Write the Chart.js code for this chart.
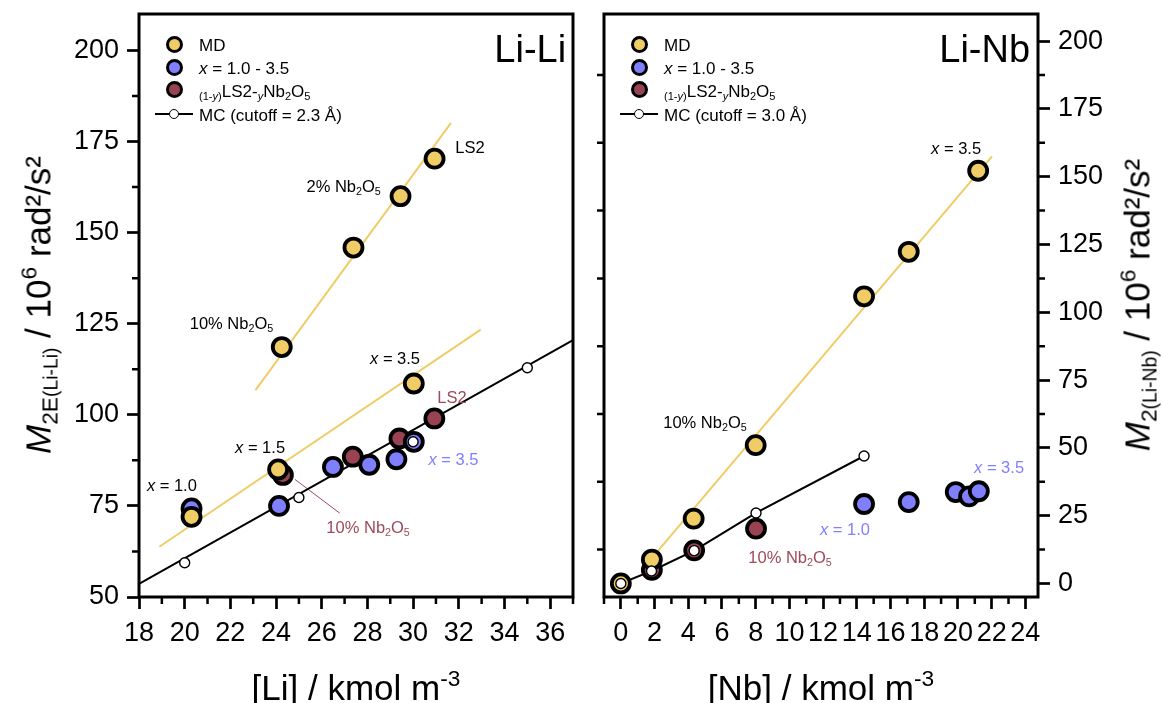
<!DOCTYPE html>
<html>
<head>
<meta charset="utf-8">
<script src="https://cdn.jsdelivr.net/npm/chart.js@4.4.1/dist/chart.umd.min.js"></script>
<style>
  body { margin: 0; background: #fff; }
  #wrap { position: relative; width: 1162px; height: 703px; overflow: hidden;
          font-family: 'Liberation Sans', Arial, sans-serif; color: #000; }
  canvas { position: absolute; top: 0; }
  .note { position: absolute; white-space: nowrap; font-size: 16.5px; line-height: 1;
          transform: translate(-50%, -50%); }
  .leg { font-size: 17px; }
  .title { position: absolute; white-space: nowrap; font-size: 35px; line-height: 1;
           transform: translate(-50%, -50%); }
  .title.rot { transform: translate(-50%, -50%) rotate(-90deg); }
  sub, sup { font-size: 0.65em; line-height: 0; }
  sub { vertical-align: -0.3em; }
  sup { vertical-align: 0.6em; }
  .dot { position: absolute; border-radius: 50%; box-sizing: border-box; }
  .legline { position: absolute; height: 1.8px; background: #000; }
</style>
</head>
<body>
<div id="wrap">
  <canvas id="liChart" width="590" height="703" style="left:0"></canvas>
  <canvas id="nbChart" width="572" height="703" style="left:590px"></canvas>
</div>
<script>
const yellow = '#F0CC66';
const blue = '#8080FF';
const maroon = '#984254';
const blueText = '#7F7FFF';
const maroonText = '#9E4A5A';

// Li-Li panel: [Li] (kmol m-3) vs M2E(Li-Li) (10^6 rad^2/s^2)
const mdLi = [20.30, 24.09, 30.03, 24.25, 27.39, 29.45, 30.94];
const mdLiM2 = [72.0, 85.0, 108.6, 118.6, 145.9, 160.0, 170.3];
const xSerLi = [20.30, 24.13, 26.49, 28.08, 29.27, 30.03];
const xSerLiM2 = [74.3, 75.0, 85.7, 86.3, 87.8, 92.6];
const nbSerLi = [24.30, 27.36, 29.40, 30.93];
const nbSerLiM2 = [83.5, 88.5, 93.5, 99.0];
const mcLi = [20, 25, 30, 35];
const mcLiM2 = [59.4, 77.3, 92.6, 112.9];
const mcLiFit = [18, 37];
const mcLiFitM2 = [53.6, 120.5];
const mdLiFitLow = [18.89, 32.96];
const mdLiFitLowM2 = [63.8, 123.4];
const mdLiFitHigh = [23.1, 31.66];
const mdLiFitHighM2 = [106.8, 180.1];
const leaderLi = [24.82, 26.79];
const leaderLiM2 = [82.3, 73.0];

// Li-Nb panel: [Nb] (kmol m-3) vs M2(Li-Nb)
const mdNb = [0, 1.84, 4.32, 8.0, 14.43, 17.08, 21.2];
const mdNbM2 = [0, 8.8, 23.9, 51.0, 105.9, 122.3, 152.2];
const xSerNb = [14.43, 17.08, 19.87, 20.66, 21.24];
const xSerNbM2 = [29.3, 30.0, 33.7, 32.1, 34.0];
const nbSerNb = [1.84, 4.35, 8.02];
const nbSerNbM2 = [5.0, 12.2, 20.2];
const mcNb = [0, 1.82, 4.35, 8.02, 14.43];
const mcNbM2 = [0, 4.6, 12.1, 26.0, 47.0];
const mdNbFit = [1.85, 22.02];
const mdNbFitM2 = [9.4, 157.5];

// minor tick values
const liMinorX = [19, 21, 23, 25, 27, 29, 31, 33, 35, 37];
const liMinorY = [62.5, 87.5, 112.5, 137.5, 162.5, 187.5];
const nbMinorX = [-1, 1, 3, 5, 7, 9, 11, 13, 15, 17, 19, 21, 23];
const nbMinorY = [12.5, 37.5, 62.5, 87.5, 112.5, 137.5, 162.5, 187.5];

const liNotes = [
  { x: 19.44, y: 80.7, html: '<i>x</i> = 1.0' },
  { x: 23.30, y: 91.2, html: '<i>x</i> = 1.5' },
  { x: 29.21, y: 115.6, html: '<i>x</i> = 3.5' },
  { x: 31.70, y: 104.9, html: 'LS2', color: maroonText },
  { x: 31.77, y: 87.9, html: '<i>x</i> = 3.5', color: blueText },
  { x: 28.03, y: 69.2, html: '10% Nb<sub>2</sub>O<sub>5</sub>', color: maroonText },
  { x: 22.05, y: 125.2, html: '10% Nb<sub>2</sub>O<sub>5</sub>' },
  { x: 26.96, y: 162.8, html: '2% Nb<sub>2</sub>O<sub>5</sub>' },
  { x: 32.49, y: 173.5, html: 'LS2' },
  { x: 36.7, y: 200.4, html: 'Li-Li', size: 38, right: true }
];
const nbNotes = [
  { x: 4.99, y: 59.5, html: '10% Nb<sub>2</sub>O<sub>5</sub>' },
  { x: 13.30, y: 19.9, html: '<i>x</i> = 1.0', color: blueText },
  { x: 10.04, y: 9.75, html: '10% Nb<sub>2</sub>O<sub>5</sub>', color: maroonText },
  { x: 22.44, y: 42.9, html: '<i>x</i> = 3.5', color: blueText },
  { x: 19.89, y: 160.6, html: '<i>x</i> = 3.5' },
  { x: 24.28, y: 197.1, html: 'Li-Nb', size: 38, right: true }
];

Chart.defaults.font.family = "'Liberation Sans', Arial, sans-serif";
Chart.defaults.color = '#000';

const pts = (xs, ys) => xs.map((x, i) => ({ x, y: ys[i] }));

function markers(xs, ys, color, order) {
  return { data: pts(xs, ys), backgroundColor: color, borderColor: '#000',
           borderWidth: 3.8, pointRadius: 9, pointHoverRadius: 9, showLine: false, order };
}
function mcMarkers(xs, ys) {
  return { data: pts(xs, ys), backgroundColor: '#fff', borderColor: '#000',
           borderWidth: 1.4, pointRadius: 5, pointHoverRadius: 5, showLine: false, order: 0 };
}
function line(xs, ys, color, width, order) {
  return { data: pts(xs, ys), borderColor: color, borderWidth: width,
           pointRadius: 0, showLine: true, fill: false, order };
}

// frame box plus the short minor ticks
const frameTicks = {
  id: 'frameTicks',
  afterDraw(chart, args, opts) {
    const { ctx, chartArea: a } = chart;
    const sx = chart.scales.x, sy = chart.scales.y;
    ctx.save();
    ctx.strokeStyle = '#000';
    ctx.lineWidth = 3;
    ctx.strokeRect(a.left, a.top, a.right - a.left, a.bottom - a.top);
    ctx.lineWidth = 2.5;
    ctx.beginPath();
    opts.minorX.forEach(v => {
      const p = sx.getPixelForValue(v);
      ctx.moveTo(p, a.bottom); ctx.lineTo(p, a.bottom + 7);
    });
    opts.minorY.forEach(v => {
      const p = sy.getPixelForValue(v);
      if (opts.side === 'left') { ctx.moveTo(a.left, p); ctx.lineTo(a.left - 7, p); }
      else { ctx.moveTo(a.right, p); ctx.lineTo(a.right + 7, p); }
      if (opts.mirror) { ctx.moveTo(a.left, p); ctx.lineTo(a.left - 7, p); }
    });
    ctx.stroke();
    ctx.restore();
  }
};

function noPad(s) {
  s.paddingTop = 0; s.paddingBottom = 0; s.paddingLeft = 0; s.paddingRight = 0;
}

function axis(min, max, step, extra) {
  return Object.assign({
    type: 'linear', min, max,
    ticks: { stepSize: step, includeBounds: false, autoSkip: false, maxRotation: 0,
             maxTicksLimit: 30, font: { size: 27 }, color: '#000', padding: 8 },
    grid: { display: true, drawOnChartArea: false, tickLength: 12, tickWidth: 2.7, tickColor: '#000' },
    border: { display: false }
  }, extra);
}

function makeChart(id, datasets, scales, padding, frameOpts) {
  return new Chart(document.getElementById(id), {
    type: 'scatter',
    data: { datasets },
    options: {
      responsive: false, animation: false, events: [],
      layout: { padding },
      plugins: { legend: { display: false }, tooltip: { enabled: false }, frameTicks: frameOpts },
      scales
    },
    plugins: [frameTicks]
  });
}

const liChart = makeChart('liChart', [
  mcMarkers(mcLi, mcLiM2),
  markers(mdLi, mdLiM2, yellow, 1),
  markers(xSerLi, xSerLiM2, blue, 2),
  markers(nbSerLi, nbSerLiM2, maroon, 3),
  line(mcLiFit, mcLiFitM2, '#000', 2, 4),
  line(mdLiFitLow, mdLiFitLowM2, yellow, 2, 5),
  line(mdLiFitHigh, mdLiFitHighM2, yellow, 2, 5),
  line(leaderLi, leaderLiM2, maroonText, 1, 5)
], {
  x: axis(18, 37, 2, { afterFit: s => { s.height = 106; noPad(s); } }),
  y: axis(50, 210, 25, { position: 'left', afterFit: s => { s.width = 139; noPad(s); } })
}, { top: 14, right: 17, left: 0, bottom: 0 },
{ minorX: liMinorX, minorY: liMinorY, side: 'left', mirror: false });

const nbChart = makeChart('nbChart', [
  mcMarkers(mcNb, mcNbM2),
  markers(mdNb, mdNbM2, yellow, 1),
  markers(xSerNb, xSerNbM2, blue, 2),
  markers(nbSerNb, nbSerNbM2, maroon, 3),
  line(mcNb, mcNbM2, '#000', 2, 4),
  line(mdNbFit, mdNbFitM2, yellow, 2, 5)
], {
  x: axis(-1, 24.75, 2, { afterFit: s => { s.height = 106; noPad(s); } }),
  y: axis(-5, 210, 25, { position: 'right', afterFit: s => { s.width = 124; noPad(s); } })
}, { top: 14, right: 0, left: 14, bottom: 0 },
{ minorX: nbMinorX, minorY: nbMinorY, side: 'right', mirror: true });

const wrap = document.getElementById('wrap');

function addDiv(cls, html, left, top, style) {
  const el = document.createElement('div');
  el.className = cls;
  el.innerHTML = html;
  el.style.left = left + 'px';
  el.style.top = top + 'px';
  Object.assign(el.style, style || {});
  wrap.appendChild(el);
  return el;
}

function addNotes(chart, offset, notes) {
  notes.forEach(n => {
    const style = {};
    if (n.color) style.color = n.color;
    if (n.size) style.fontSize = n.size + 'px';
    if (n.right) style.transform = 'translate(-100%, -50%)';
    addDiv('note', n.html, offset + chart.scales.x.getPixelForValue(n.x),
           chart.scales.y.getPixelForValue(n.y), style);
  });
}

function addLegend(chart, offset, cutoff) {
  const L = offset + chart.chartArea.left, T = chart.chartArea.top;
  const rows = [
    { color: yellow, html: 'MD', y: 30 },
    { color: blue, html: '<i>x</i> = 1.0 - 3.5', y: 53 },
    { color: maroon, html: '<sub>(1-<i>y</i>)</sub>LS2-<sub><i>y</i></sub>Nb<sub>2</sub>O<sub>5</sub>', y: 75.5 }
  ];
  rows.forEach(r => {
    addDiv('dot', '', L + 35 - 8.5, T + r.y - 8.5,
           { width: '17px', height: '17px', background: r.color, border: '3.4px solid #000' });
    addDiv('note leg', r.html, L + 60, T + r.y + 1, { transform: 'translate(0, -50%)' });
  });
  addDiv('legline', '', L + 16, T + 100 - 0.9, { width: '38px' });
  addDiv('dot', '', L + 35 - 5, T + 100 - 5,
         { width: '10px', height: '10px', background: '#fff', border: '1.4px solid #000' });
  addDiv('note leg', 'MC (cutoff = ' + cutoff + ' Å)', L + 60, T + 101, { transform: 'translate(0, -50%)' });
}

addNotes(liChart, 0, liNotes);
addNotes(nbChart, 590, nbNotes);
addLegend(liChart, 0, '2.3');
addLegend(nbChart, 590, '3.0');

// axis titles
addDiv('title rot', '<i>M</i><sub>2E<span style="font-size:0.85em">(Li-Li)</span></sub> / 10<sup>6</sup> rad²/s²', 38, 305);
addDiv('title rot', '<i>M</i><sub>2<span style="font-size:0.85em">(Li-Nb)</span></sub> / 10<sup>6</sup> rad²/s²', 1137, 305);
addDiv('title', '[Li] / kmol m<sup>-3</sup>', 356, 687);
addDiv('title', '[Nb] / kmol m<sup>-3</sup>', 821, 687);
</script>
</body>
</html>
